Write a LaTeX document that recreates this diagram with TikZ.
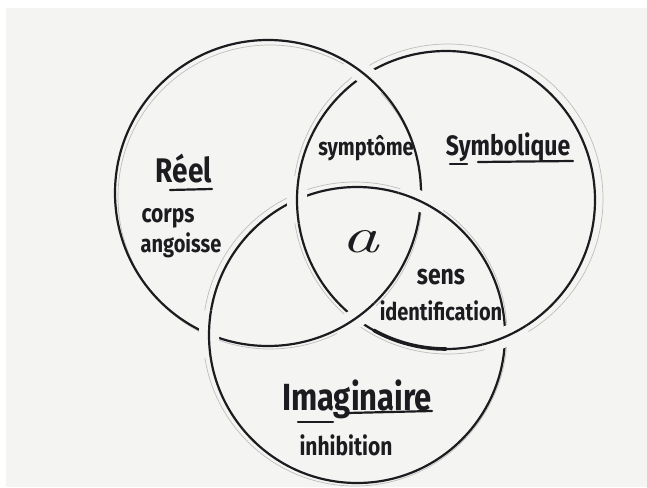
\documentclass[tikz,border=0pt]{standalone}
\usepackage{fontspec}
\newfontfamily\hand{Fira Sans}
\usetikzlibrary{intersections}
\definecolor{paper}{RGB}{244,244,242}
\definecolor{ink}{RGB}{28,28,32}
\definecolor{pencil}{RGB}{190,190,190}
\newcommand{\tallt}[1]{\scalebox{1}[1.22]{#1}}
\begin{document}
\begin{tikzpicture}[x=1pt,y=1pt,
  ring/.style={draw=ink,line width=2.2pt},
  halo/.style={draw=paper,line width=20pt},
  pencilring/.style={draw=pencil,line width=0.7pt},
  lbl/.style={text=ink,inner sep=0pt,anchor=base},
  uline/.style={draw=ink,line width=2.2pt,line cap=round}]
\useasboundingbox (0,0) rectangle (647,-487);
\fill[paper] (0,0) rectangle (647,-487);
\fill[white] (0,0) rectangle (647,-8);
\fill[white] (0,0) rectangle (6,-487);

% pencil guide circles
\draw[pencilring] (270,-197) circle[radius=152];
\draw[pencilring] (448,-199) circle[radius=155];
\draw[pencilring] (355,-334) circle[radius=152];

% ink rings
\draw[ring,name path=R] (268,-193) circle[radius=153];
\draw[ring,name path=S] (446,-200) circle[radius=149];
\draw[ring,name path=I] (357,-335) circle[radius=148];

\path[name intersections={of=R and S,by={rs1,rs2}}];
\path[name intersections={of=R and I,by={ri1,ri2}}];
\path[name intersections={of=S and I,by={si1,si2}}];

% Reel over Symbolique
\foreach \p in {rs1,rs2}{
  \begin{scope}
    \clip (\p) circle[radius=24];
    \draw[halo] (268,-193) circle[radius=153];
    \draw[ring] (268,-193) circle[radius=153];
  \end{scope}}
% Imaginaire over Reel
\foreach \p in {ri1,ri2}{
  \begin{scope}
    \clip (\p) circle[radius=24];
    \draw[halo] (357,-335) circle[radius=148];
    \draw[ring] (357,-335) circle[radius=148];
  \end{scope}}
% Symbolique over Imaginaire
\foreach \p in {si1,si2}{
  \begin{scope}
    \clip (\p) circle[radius=24];
    \draw[halo] (446,-200) circle[radius=149];
    \draw[ring] (446,-200) circle[radius=149];
  \end{scope}}

% thick stroke at the bottom of Symbolique
\draw[draw=ink,line width=3.6pt,line cap=round] ([shift={(-119:149)}]446,-200) arc[start angle=-119,end angle=-90,radius=149];

% labels
\node[lbl,font={\hand\bfseries\fontsize{28}{30}\selectfont}] (reel) at (184,-182) {\tallt{Réel}};
\draw[uline] (170,-190) -- (212,-189);
\node[lbl,font={\hand\bfseries\fontsize{21}{24}\selectfont}] (corps) at (168,-222) {\tallt{corps}};
\node[lbl,font={\hand\bfseries\fontsize{20}{24}\selectfont}] (angoisse) at (181,-252) {\tallt{angoisse}};

\node[lbl,font={\hand\bfseries\fontsize{20}{24}\selectfont}] (sympt) at (366,-155) {\tallt{symptôme}};

\node[lbl,font={\hand\bfseries\fontsize{23}{26}\selectfont}] (symb) at (508,-155) {\tallt{Symbolique}};
\draw[uline] (450,-164) -- (467,-164);
\draw[uline] (478,-162) -- (573,-161);

\node[lbl,font={\fontsize{50}{50}\selectfont\itshape}] (a) at (360,-252) {\scalebox{1.5}[1]{a}};

\node[lbl,font={\hand\bfseries\fontsize{23}{26}\selectfont}] (sens) at (441,-284) {\tallt{sens}};
\node[lbl,font={\hand\bfseries\fontsize{20}{24}\selectfont}] (ident) at (441,-320) {\tallt{identification}};

\node[lbl,font={\hand\bfseries\fontsize{31}{34}\selectfont}] (imag) at (357,-410) {\tallt{Imaginaire}};
\draw[uline] (298,-422) -- (333,-422);
\draw[uline] (347,-413) -- (432,-411);
\node[lbl,font={\hand\bfseries\fontsize{21}{24}\selectfont}] (inhib) at (346,-455) {\tallt{inhibition}};
\end{tikzpicture}
\end{document}
